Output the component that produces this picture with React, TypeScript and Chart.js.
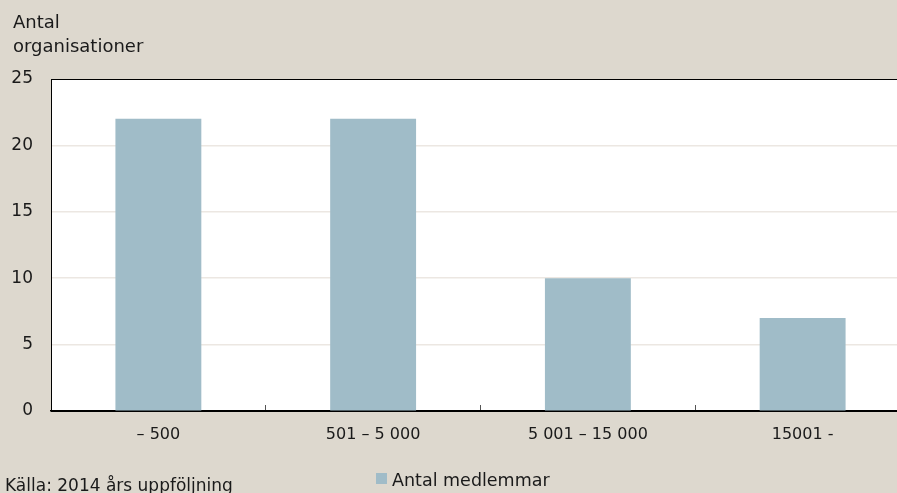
import React, { useEffect, useRef } from 'react';
import { Chart, registerables } from 'chart.js';

Chart.register(...registerables);

const categories = ['– 500', '501 – 5 000', '5 001 – 15 000', '15001 -'];
const memberCounts = [22, 22, 10, 7];
const seriesLabel = 'Antal medlemmar';
const titleLines = ['Antal', 'organisationer'];
const sourceText = 'Källa: 2014 års uppföljning';
const yMin = 0;
const yMax = 25;
const yStep = 5;

const FONT = '"DejaVu Sans", sans-serif';
const BG = '#ddd8ce';
const BAR = '#a0bcc8';
const GRID = '#ece7e2';
const TEXT = '#1a1a1a';

const decorPlugin = {
  id: 'decor',
  beforeDraw(chart: any) {
    const { ctx, chartArea, width, height } = chart;
    ctx.save();
    ctx.fillStyle = BG;
    ctx.fillRect(0, 0, width, height);
    ctx.fillStyle = '#ffffff';
    ctx.fillRect(chartArea.left, chartArea.top, chartArea.right - chartArea.left, chartArea.bottom - chartArea.top);
    ctx.restore();
  },
  afterDraw(chart: any) {
    const { ctx } = chart;
    ctx.save();
    ctx.fillStyle = TEXT;
    ctx.textBaseline = 'alphabetic';
    ctx.textAlign = 'left';
    ctx.font = `18px ${FONT}`;
    titleLines.forEach((line, i) => ctx.fillText(line, 13, 28 + i * 24));
    const ds = chart.data.datasets[0];
    ctx.fillStyle = ds.backgroundColor as string;
    ctx.fillRect(376, 473, 11, 11);
    ctx.fillStyle = TEXT;
    ctx.font = `17.5px ${FONT}`;
    ctx.fillText(ds.label, 392, 485.5);
    ctx.font = `17px ${FONT}`;
    ctx.fillText(sourceText, 5, 490.5);
    ctx.restore();
  },
};

export default function App() {
  const canvasRef = useRef<HTMLCanvasElement | null>(null);

  useEffect(() => {
    document.body.style.margin = '0';
    document.body.style.overflow = 'hidden';
    const canvas = canvasRef.current;
    if (!canvas) return;
    const chart = new Chart(canvas, {
      type: 'bar',
      data: {
        labels: categories,
        datasets: [
          {
            label: seriesLabel,
            data: memberCounts,
            backgroundColor: BAR,
            borderWidth: 0,
            barPercentage: 0.4,
            categoryPercentage: 1,
          },
        ],
      },
      options: {
        animation: false,
        responsive: false,
        devicePixelRatio: window.devicePixelRatio || 1,
        layout: { padding: { top: 79, left: 0, right: 0, bottom: 0 } },
        plugins: {
          legend: { display: false },
          title: { display: false },
          tooltip: { enabled: false },
        },
        scales: {
          x: {
            offset: true,
            grid: {
              offset: true,
              drawOnChartArea: false,
              drawTicks: true,
              tickLength: -6,
              color: '#555555',
              lineWidth: 1,
            },
            border: { display: true, color: '#000000', width: 1.5 },
            ticks: {
              color: TEXT,
              font: { family: FONT, size: 16 },
              padding: 20,
              maxRotation: 0,
              autoSkip: false,
            },
            afterFit: (scale: any) => {
              scale.height = 82;
            },
          },
          y: {
            min: yMin,
            max: yMax,
            grid: {
              drawTicks: false,
              color: (c: any) => (c.tick && (c.tick.value === yMax || c.tick.value === yMin) ? '#000000' : GRID),
              lineWidth: (c: any) => (c.tick && (c.tick.value === yMax || c.tick.value === yMin) ? 1 : 1.5),
            },
            border: { display: true, color: '#000000', width: 1 },
            ticks: {
              stepSize: yStep,
              color: TEXT,
              font: { family: FONT, size: 17 },
              padding: 18,
            },
            afterFit: (scale: any) => {
              scale.width = 51;
            },
          },
        },
      },
      plugins: [decorPlugin],
    });
    return () => chart.destroy();
  }, []);

  return (
    <div style={{ width: 910, height: 493, overflow: 'hidden', background: BG }}>
      <canvas ref={canvasRef} width={910} height={493} style={{ display: 'block', width: 910, height: 493 }} />
    </div>
  );
}
